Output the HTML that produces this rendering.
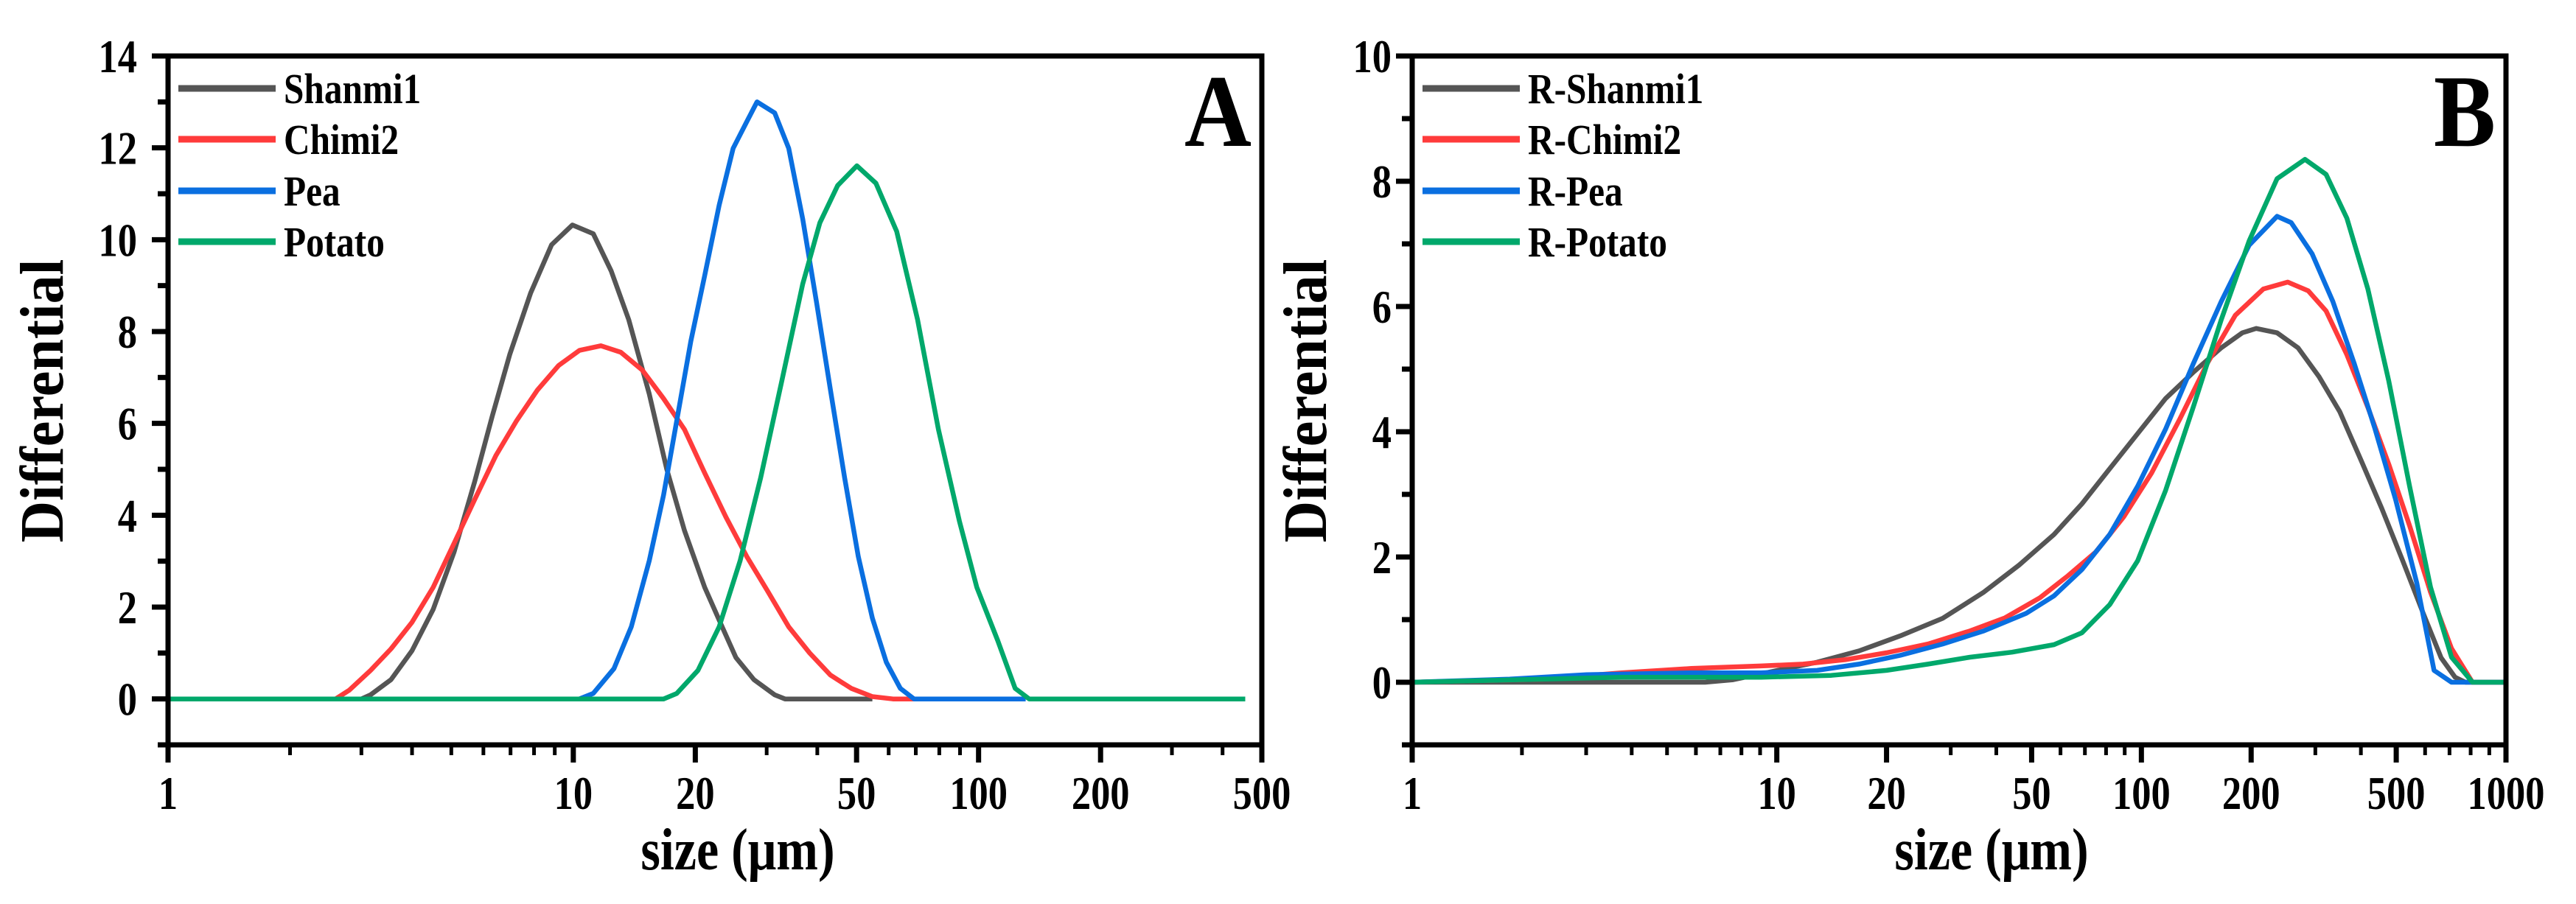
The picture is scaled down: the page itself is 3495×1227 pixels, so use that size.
<!DOCTYPE html>
<html><head><meta charset="utf-8"><title>Particle size distribution</title>
<style>
html,body{margin:0;padding:0;background:#fff;}
svg{display:block;}
text{font-family:"Liberation Serif","DejaVu Serif",serif;font-weight:bold;fill:#000;}
</style></head>
<body>
<svg id="fig" width="3495" height="1227" viewBox="0 0 3495 1227" xmlns="http://www.w3.org/2000/svg"></svg>
<script>
// ---------- Panel A data ----------
const aShanmiX = [1,3.0,3.16,3.55,4.00,4.51,5.08,5.71,6.31,6.97,7.85,8.84,9.95,11.2,12.4,13.7,15.4,17.0,18.8,21.1,23.3,25.2,27.9,31.4,33.3,54.7];
const aShanmiY = [0,0,0.09,0.42,1.05,1.95,3.20,4.73,6.16,7.50,8.84,9.89,10.32,10.13,9.32,8.26,6.64,5.01,3.67,2.43,1.57,0.90,0.42,0.09,0,0];
const aChimiX = [1,2.59,2.80,3.16,3.55,4.00,4.51,5.08,5.71,6.44,7.25,8.16,9.20,10.35,11.7,13.1,14.8,16.7,18.8,21.1,23.8,26.8,30.2,34.0,38.3,43.1,48.5,54.7,61.5,69.3];
const aChimiY = [0,0,0.19,0.62,1.09,1.67,2.43,3.39,4.34,5.30,6.06,6.73,7.26,7.59,7.69,7.55,7.16,6.54,5.87,4.92,3.96,3.10,2.34,1.57,1.00,0.52,0.23,0.05,0,0];
const aPeaX = [1,10.35,11.2,12.6,13.9,15.4,16.7,18.0,19.5,21.1,22.9,24.8,26.8,28.4,31.4,34.0,36.8,39.8,43.1,46.7,50.5,54.7,59.2,64.1,69.3,130.7];
const aPeaY = [0,0,0.12,0.66,1.57,3.01,4.44,6.06,7.79,9.22,10.75,11.99,12.57,13.0,12.76,11.99,10.46,8.65,6.73,4.82,3.10,1.76,0.80,0.23,0,0];
const aPotatoX = [1,16.7,18.0,20.3,22.9,25.8,29.0,32.7,36.8,40.6,44.9,50.1,55.8,62.8,70.7,79.6,89.7,99.0,111.5,123.1,133.3,455];
const aPotatoY = [0,0,0.12,0.62,1.57,3.01,4.82,6.93,9.03,10.37,11.18,11.61,11.23,10.18,8.26,5.87,3.87,2.43,1.27,0.23,0,0];
const aTicksX = [1,10,20,50,100,200,500];
const aTicksY = [0,2,4,6,8,10,12,14];
const aLegend = ["Shanmi1","Chimi2","Pea","Potato"];

// ---------- Panel B data ----------
const bShanmiX = [1,6.36,7.59,9.88,12.9,16.8,21.8,28.5,37.0,46.2,57.6,68.7,81.9,97.7,116.5,138.9,165.6,189.2,206.5,235.6,269,307,350,400,456,521,594,664,725,774,1000];
const bShanmiY = [0,0,0.04,0.18,0.32,0.50,0.74,1.02,1.44,1.87,2.36,2.85,3.41,3.97,4.53,4.95,5.34,5.58,5.65,5.58,5.34,4.88,4.32,3.55,2.78,1.94,1.09,0.39,0.08,0,0];
const bChimiX = [1,2.31,3.75,5.83,9.05,11.8,15.4,20.0,26.0,33.9,42.3,52.7,62.9,75.0,89.4,106.6,127.1,151.6,181,216,252,287,321,366,418,477,544,621,709,809,1000];
const bChimiY = [0,0.05,0.15,0.22,0.26,0.29,0.36,0.47,0.61,0.82,1.03,1.35,1.70,2.08,2.64,3.34,4.19,5.09,5.86,6.28,6.39,6.25,5.93,5.23,4.39,3.48,2.50,1.44,0.54,0,0];
const bPeaX = [1,1.85,3.01,5.83,9.05,12.9,16.8,21.8,28.5,37.0,48.3,57.6,68.7,81.9,97.7,116.5,138.9,165.6,197.6,235.6,257.5,294,335,383,437,498,569,635,709,1000];
const bPeaY = [0,0.05,0.12,0.15,0.15,0.19,0.29,0.43,0.61,0.82,1.10,1.38,1.80,2.36,3.13,4.04,5.09,6.08,6.98,7.44,7.34,6.84,6.08,5.10,4.05,2.92,1.59,0.19,0,0];
const bPotatoX = [1,2.31,3.75,5.83,9.05,14.1,20.0,26.0,33.9,44.2,57.6,68.7,81.9,97.7,116.5,138.9,165.6,197.6,235.6,281,321,366,418,477,544,621,709,809,1000];
const bPotatoY = [0,0.05,0.08,0.08,0.08,0.11,0.19,0.29,0.40,0.48,0.60,0.79,1.24,1.94,3.06,4.40,5.79,7.05,8.04,8.35,8.11,7.41,6.28,4.81,3.13,1.52,0.40,0,0];
const bTicksX = [1,10,20,50,100,200,500,1000];
const bTicksY = [0,2,4,6,8,10];
const bLegend = ["R-Shanmi1","R-Chimi2","R-Pea","R-Potato"];

const colors = ["#555555","#ff3b3b","#0a6fe0","#00a86b"];
const NS = "http://www.w3.org/2000/svg";
const svg = document.getElementById("fig");

function mk(tag, attrs, parent){
  const e = document.createElementNS(NS, tag);
  for (const k in attrs) e.setAttribute(k, attrs[k]);
  (parent||svg).appendChild(e);
  return e;
}
function txt(parent, x, y, str, size, anchor, sxs, rot){
  const t = mk("text",{x:0,y:0,"text-anchor":anchor,"font-size":size,
    transform:"translate("+x+","+y+")"+(rot?" rotate("+rot+")":"")+" scale("+sxs+",1)"},parent);
  t.textContent = str;
  return t;
}

function panel(cfg){
  const g = mk("g", {});
  
  
  const L=cfg.left, R=cfg.right, T=76, B=1011;
  const lmin=Math.log10(cfg.xmin), lmax=Math.log10(cfg.xmax);
  const sx = v => L + (Math.log10(v)-lmin)/(lmax-lmin)*(R-L);
  const sy = v => T + (cfg.ymax - v)/(cfg.ymax - cfg.ymin)*(B-T);

  cfg.series.forEach((s,i)=>{
    const d = s.x.map((xv,j)=>(j?"L":"M")+sx(Math.min(xv,cfg.xmax)).toFixed(1)+","+sy(s.y[j]).toFixed(1)).join(" ");
    const p = mk("path",{d:d,fill:"none",stroke:colors[i],"stroke-width":6.5,"stroke-linejoin":"round"},g);
    
    
  });

  const fr = mk("rect",{x:L,y:T,width:R-L,height:B-T,fill:"none",stroke:"#000","stroke-width":7},g);
  
  

  for(let v=cfg.ymin; v<=cfg.ymax; v++){
    const major = cfg.yticks.indexOf(v)>=0;
    const t = mk("line",{x1:L-(major?22:14),x2:L,y1:sy(v),y2:sy(v),stroke:"#000","stroke-width":7},g);
    
    
  }
  cfg.yticks.forEach(v=>{
    const tx = txt(g, cfg.ylabX, sy(v)+22, String(v), 64, "end", 0.82);
    
    
  });

  for(let dec=1; dec<=cfg.xmax; dec*=10){
    for(let m=1;m<10;m++){
      const v=dec*m;
      if(v<cfg.xmin||v>cfg.xmax+1e-6) continue;
      const major = cfg.xticks.indexOf(v)>=0;
      const t = mk("line",{x1:sx(v),x2:sx(v),y1:B,y2:B+(major?24:14),stroke:"#000","stroke-width":major?7:5},g);
      
      
    }
  }
  cfg.xticks.forEach(v=>{
    const tx = txt(g, sx(v), 1098, String(v), 64, "middle", 0.82);
    
    
  });

  const xt = txt(g, cfg.xtitleX, 1180, "size (\u03bcm)", 80, "middle", 0.85);
  
  
  const yt = txt(g, cfg.ytitleX+28, 544, "Differential", 84, "middle", 0.93, -90);
  
  

  const rows=[120,189,259,328];
  cfg.legend.forEach((name,i)=>{
    const lg = mk("g",{},g);
    
    
    mk("line",{x1:L+14,x2:L+146,y1:rows[i],y2:rows[i],stroke:colors[i],"stroke-width":9},lg);
    txt(lg, L+157, rows[i]+20, name, 58, "start", 0.85);
  });

  const pl = txt(g, R-14, 198, cfg.letter, 140, "end", 0.9);
  
  
}

panel({name:"panel-a",left:228,right:1712,xmin:1,xmax:500,ymin:-1,ymax:14,
  xticks:aTicksX,yticks:aTicksY,legend:aLegend,letter:"A",ylabX:186,ytitleX:57,xtitleX:1001,
  series:[{x:aShanmiX,y:aShanmiY},{x:aChimiX,y:aChimiY},{x:aPeaX,y:aPeaY},{x:aPotatoX,y:aPotatoY}]});
panel({name:"panel-b",left:1916,right:3400,xmin:1,xmax:1000,ymin:-1,ymax:10,
  xticks:bTicksX,yticks:bTicksY,legend:bLegend,letter:"B",ylabX:1888,ytitleX:1771,xtitleX:2702,
  series:[{x:bShanmiX,y:bShanmiY},{x:bChimiX,y:bChimiY},{x:bPeaX,y:bPeaY},{x:bPotatoX,y:bPotatoY}]});
</script>
</body></html>
